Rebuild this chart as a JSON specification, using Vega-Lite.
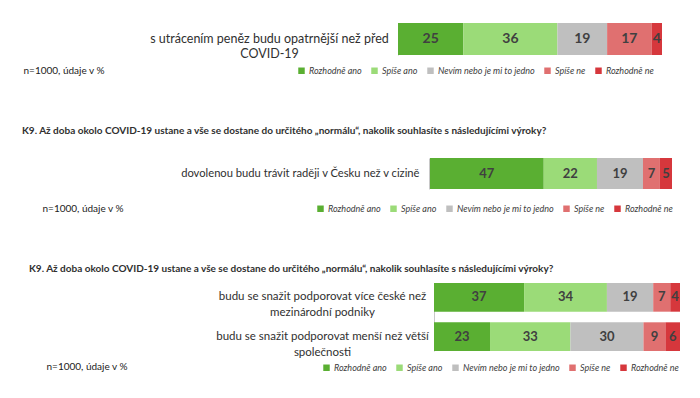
{
  "$schema": "https://vega.github.io/schema/vega-lite/v6.json",
  "padding": {"left": 22, "top": 23, "right": 0, "bottom": 0},
  "background": "white",
  "config": {
    "view": {"stroke": null},
    "font": "Lato",
    "axis": {"labelColor": "#303030", "titleColor": "#222222"},
    "legend": {"labelColor": "#404040"},
    "title": {"color": "#303030"}
  },
  "datasets": {
    "d1": [
      {"s": "s utrácením peněz budu opatrnější než před\nCOVID-19", "o": "Rozhodně ano", "i": 1, "v": 25},
      {"s": "s utrácením peněz budu opatrnější než před\nCOVID-19", "o": "Spíše ano", "i": 2, "v": 36},
      {"s": "s utrácením peněz budu opatrnější než před\nCOVID-19", "o": "Nevím nebo je mi to jedno", "i": 3, "v": 19},
      {"s": "s utrácením peněz budu opatrnější než před\nCOVID-19", "o": "Spíše ne", "i": 4, "v": 17},
      {"s": "s utrácením peněz budu opatrnější než před\nCOVID-19", "o": "Rozhodně ne", "i": 5, "v": 4}
    ],
    "d2": [
      {"s": "dovolenou budu trávit raději v Česku než v cizině", "o": "Rozhodně ano", "i": 1, "v": 47},
      {"s": "dovolenou budu trávit raději v Česku než v cizině", "o": "Spíše ano", "i": 2, "v": 22},
      {"s": "dovolenou budu trávit raději v Česku než v cizině", "o": "Nevím nebo je mi to jedno", "i": 3, "v": 19},
      {"s": "dovolenou budu trávit raději v Česku než v cizině", "o": "Spíše ne", "i": 4, "v": 7},
      {"s": "dovolenou budu trávit raději v Česku než v cizině", "o": "Rozhodně ne", "i": 5, "v": 5}
    ],
    "d3": [
      {"s": "budu se snažit podporovat více české než\nmezinárodní podniky", "o": "Rozhodně ano", "i": 1, "v": 37},
      {"s": "budu se snažit podporovat více české než\nmezinárodní podniky", "o": "Spíše ano", "i": 2, "v": 34},
      {"s": "budu se snažit podporovat více české než\nmezinárodní podniky", "o": "Nevím nebo je mi to jedno", "i": 3, "v": 19},
      {"s": "budu se snažit podporovat více české než\nmezinárodní podniky", "o": "Spíše ne", "i": 4, "v": 7},
      {"s": "budu se snažit podporovat více české než\nmezinárodní podniky", "o": "Rozhodně ne", "i": 5, "v": 4},
      {"s": "budu se snažit podporovat menší než větší\nspolečnosti", "o": "Rozhodně ano", "i": 1, "v": 23},
      {"s": "budu se snažit podporovat menší než větší\nspolečnosti", "o": "Spíše ano", "i": 2, "v": 33},
      {"s": "budu se snažit podporovat menší než větší\nspolečnosti", "o": "Nevím nebo je mi to jedno", "i": 3, "v": 30},
      {"s": "budu se snažit podporovat menší než větší\nspolečnosti", "o": "Spíše ne", "i": 4, "v": 9},
      {"s": "budu se snažit podporovat menší než větší\nspolečnosti", "o": "Rozhodně ne", "i": 5, "v": 6}
    ]
  },
  "bounds": "flush",
  "spacing": 96,
  "resolve": {"scale": {"color": "independent"}, "legend": {"color": "independent"}},
  "vconcat": [
    {
      "data": {"name": "d1"},
      "width": 282,
      "height": 34,
      "transform": [
        {"stack": "v", "groupby": ["s"], "sort": [{"field": "i", "order": "ascending"}], "offset": "normalize", "as": ["x0", "x1"]},
        {"calculate": "(datum.x0 + datum.x1) / 2", "as": "xm"}
      ],
      "layer": [
        {
          "mark": {"type": "bar"},
          "encoding": {
            "y": {"field": "s", "type": "nominal", "sort": null, "scale": {"range": [0, 32], "paddingInner": 0, "paddingOuter": 0},
              "axis": {"title": null, "ticks": false, "domainColor": "#c8c8c8", "labelAlign": "center", "labelPadding": 129, "labelFontSize": 12.5, "labelLimit": 500, "labelLineHeight": 15, "labelExpr": "split(datum.label, '\\n')"}},
            "x": {"field": "x0", "type": "quantitative", "title": "n=1000, údaje v %", "scale": {"domain": [0, 1], "range": [0, 264], "nice": false},
              "axis": {"labels": false, "ticks": false, "domain": false, "grid": false, "titleX": -375, "titleY": 13, "titleAlign": "left", "titleBaseline": "middle", "titleFontSize": 10, "titleFontWeight": "normal"}},
            "x2": {"field": "x1"},
            "color": {"field": "o", "type": "nominal",
              "scale": {"domain": ["Rozhodně ano", "Spíše ano", "Nevím nebo je mi to jedno", "Spíše ne", "Rozhodně ne"], "range": ["#5AAF32", "#9BDB78", "#BFBFBF", "#E07070", "#D6373C"]},
              "legend": {"title": null, "orient": "none", "legendX": -101, "legendY": 43, "direction": "horizontal", "symbolType": "square", "symbolSize": 42, "symbolStrokeWidth": 0, "labelFontStyle": "italic", "labelFontSize": 9, "labelOffset": 3, "columnPadding": 8}}
          }
        },
        {
          "mark": {"type": "text", "fontWeight": "bold", "fontSize": 14, "color": "#404040"},
          "encoding": {
            "y": {"field": "s", "type": "nominal", "sort": null},
            "x": {"field": "xm", "type": "quantitative", "title": "n=1000, údaje v %"},
            "text": {"field": "v", "type": "quantitative"}
          }
        }
      ]
    },
    {
      "data": {"name": "d2"},
      "width": 282,
      "height": 40,
      "title": {"text": "K9. Až doba okolo COVID-19 ustane a vše se dostane do určitého „normálu“, nakolik souhlasíte s následujícími výroky?", "anchor": "start", "frame": "group", "dx": -376, "offset": 7, "baseline": "bottom", "fontSize": 10, "fontWeight": "bold"},
      "transform": [
        {"stack": "v", "groupby": ["s"], "sort": [{"field": "i", "order": "ascending"}], "offset": "normalize", "as": ["x0", "x1"]},
        {"calculate": "(datum.x0 + datum.x1) / 2", "as": "xm"}
      ],
      "layer": [
        {
          "mark": {"type": "bar"},
          "encoding": {
            "y": {"field": "s", "type": "nominal", "sort": null, "scale": {"range": [5, 36], "paddingInner": 0, "paddingOuter": 0},
              "axis": {"title": null, "offset": -31, "ticks": false, "domainColor": "#c8c8c8", "labelPadding": 10, "labelFontSize": 11.2, "labelLimit": 500}},
            "x": {"field": "x0", "type": "quantitative", "title": "n=1000, údaje v %", "scale": {"domain": [0, 1], "range": [32, 274], "nice": false},
              "axis": {"labels": false, "ticks": false, "domain": false, "grid": false, "titleX": -356, "titleY": 15, "titleAlign": "left", "titleBaseline": "middle", "titleFontSize": 10, "titleFontWeight": "normal"}},
            "x2": {"field": "x1"},
            "color": {"field": "o", "type": "nominal",
              "scale": {"domain": ["Rozhodně ano", "Spíše ano", "Nevím nebo je mi to jedno", "Spíše ne", "Rozhodně ne"], "range": ["#5AAF32", "#9BDB78", "#BFBFBF", "#E07070", "#D6373C"]},
              "legend": {"title": null, "orient": "none", "legendX": -82, "legendY": 51, "direction": "horizontal", "symbolType": "square", "symbolSize": 42, "symbolStrokeWidth": 0, "labelFontStyle": "italic", "labelFontSize": 9, "labelOffset": 3, "columnPadding": 8}}
          }
        },
        {
          "mark": {"type": "text", "fontWeight": "bold", "fontSize": 13, "color": "#404040"},
          "encoding": {
            "y": {"field": "s", "type": "nominal", "sort": null},
            "x": {"field": "xm", "type": "quantitative", "title": "n=1000, údaje v %"},
            "text": {"field": "v", "type": "quantitative"}
          }
        }
      ]
    },
    {
      "data": {"name": "d3"},
      "width": 282,
      "height": 62,
      "title": {"text": "K9. Až doba okolo COVID-19 ustane a vše se dostane do určitého „normálu“, nakolik souhlasíte s následujícími výroky?", "anchor": "start", "frame": "group", "dx": -369, "offset": -1, "baseline": "bottom", "fontSize": 10, "fontWeight": "bold"},
      "transform": [
        {"stack": "v", "groupby": ["s"], "sort": [{"field": "i", "order": "ascending"}], "offset": "normalize", "as": ["x0", "x1"]},
        {"calculate": "(datum.x0 + datum.x1) / 2", "as": "xm"}
      ],
      "layer": [
        {
          "mark": {"type": "bar"},
          "encoding": {
            "y": {"field": "s", "type": "nominal", "sort": null, "scale": {"range": [-6, 62], "paddingInner": 0.27, "paddingOuter": 0},
              "axis": {"title": null, "offset": -36, "ticks": false, "domainColor": "#c8c8c8", "labelAlign": "center", "labelPadding": 112, "labelFontSize": 11.5, "labelLimit": 500, "labelLineHeight": 16, "labelExpr": "split(datum.label, '\\n')"}},
            "x": {"field": "x0", "type": "quantitative", "title": "n=1000, údaje v %", "scale": {"domain": [0, 1], "range": [36, 282], "nice": false},
              "axis": {"labels": false, "ticks": false, "domain": false, "grid": false, "titleX": -352, "titleY": 15, "titleAlign": "left", "titleBaseline": "middle", "titleFontSize": 10, "titleFontWeight": "normal"}},
            "x2": {"field": "x1"},
            "color": {"field": "o", "type": "nominal",
              "scale": {"domain": ["Rozhodně ano", "Spíše ano", "Nevím nebo je mi to jedno", "Spíše ne", "Rozhodně ne"], "range": ["#5AAF32", "#9BDB78", "#BFBFBF", "#E07070", "#D6373C"]},
              "legend": {"title": null, "orient": "none", "legendX": -76, "legendY": 74, "direction": "horizontal", "symbolType": "square", "symbolSize": 42, "symbolStrokeWidth": 0, "labelFontStyle": "italic", "labelFontSize": 9, "labelOffset": 3, "columnPadding": 8}}
          }
        },
        {
          "mark": {"type": "text", "fontWeight": "bold", "fontSize": 13, "color": "#404040"},
          "encoding": {
            "y": {"field": "s", "type": "nominal", "sort": null},
            "x": {"field": "xm", "type": "quantitative", "title": "n=1000, údaje v %"},
            "text": {"field": "v", "type": "quantitative"}
          }
        }
      ]
    }
  ]
}
